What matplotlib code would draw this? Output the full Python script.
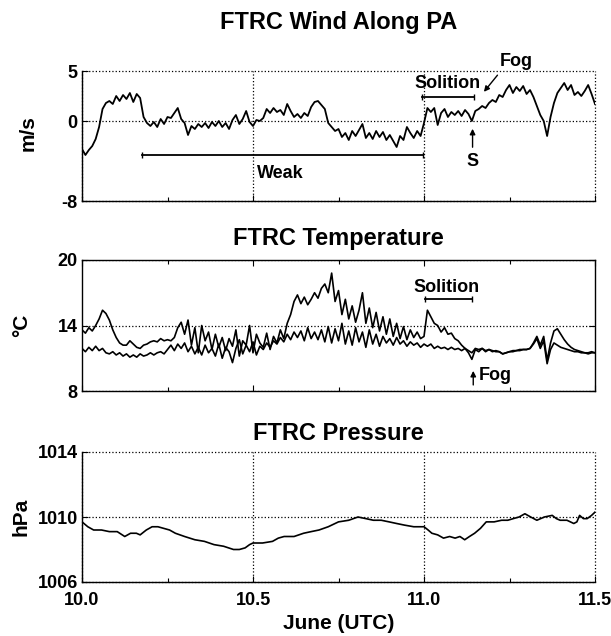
import numpy as np
import matplotlib
matplotlib.use("Agg")
import matplotlib.pyplot as plt

plt.rcParams['font.family'] = ['Liberation Sans', 'DejaVu Sans']
plt.rcParams['font.weight'] = 'bold'
plt.rcParams['axes.labelweight'] = 'bold'

# time axis of the wind and temperature records (June, UTC days)
day = np.round(np.arange(10.0, 11.5001, 0.01), 2)

# wind along PA (m/s), every 0.01 day
wind = [
    -2.8, -3.4, -2.9, -2.5, -1.8, -0.6, 1.2, 1.8, 2.0, 1.7,
    2.5, 2.0, 2.6, 2.2, 2.8, 1.9, 2.7, 2.3, 0.4, -0.2,
    -0.5, -0.1, -0.6, 0.2, -0.3, 0.4, 0.3, 0.8, 1.3, 0.2,
    -0.2, -1.4, -0.5, -0.8, -0.3, -0.6, -0.2, -0.7, -0.1, -0.5,
    0.0, -0.6, -0.2, -0.8, 0.1, 0.6, -0.3, 0.2, 1.0, -0.1,
    -0.5, 0.1, 0.0, 0.3, 1.2, 0.8, 1.3, 0.9, 1.1, 0.6,
    1.7, 1.0, 0.4, 0.7, 0.3, 0.8, 0.5, 1.4, 1.9, 2.0,
    1.6, 1.2, -0.2, -0.6, -1.0, -0.8, -1.6, -1.2, -1.9, -1.0,
    -1.5, -0.9, -0.3, -1.7, -1.2, -1.8, -1.0, -1.6, -1.1, -1.9,
    -1.4, -2.0, -2.6, -1.5, -1.9, -0.6, -1.2, -1.7, -1.0, -1.5,
    -0.2, 1.3, 0.9, 1.3, -0.4, 0.8, 1.2, 0.4, 0.9, 0.6,
    1.0, 0.5, 1.1, 0.7, 0.0, 1.0, 1.2, 1.5, 1.3, 1.8,
    2.1, 1.9, 2.6, 2.4, 3.1, 3.6, 2.8, 3.4, 3.0, 3.5,
    2.7, 3.1, 2.4, 1.5, 0.6, 0.0, -1.5, 0.4, 1.8, 2.8,
    3.3, 3.8, 3.1, 3.6, 2.6, 2.9, 2.5, 3.0, 3.6, 2.7,
    1.7,
]

# the two temperature traces (deg C)
temp_hi = [
    13.6, 13.3, 13.8, 13.5, 14.0, 14.6, 15.4, 15.1, 14.5, 13.6,
    12.9, 12.4, 12.2, 12.2, 12.6, 12.3, 12.0, 11.9, 12.2, 12.3,
    12.5, 12.6, 12.5, 12.8, 12.6, 12.7, 12.6, 12.9, 13.8, 14.3,
    13.2, 14.5, 12.2, 13.8, 11.5, 14.0, 12.6, 13.4, 11.8, 13.2,
    12.0, 12.9, 11.7, 12.8, 12.1, 13.6, 11.2, 12.6, 12.2, 14.0,
    11.5, 13.2, 12.4, 12.0, 13.3, 11.8, 13.0, 12.4, 13.6, 12.8,
    14.2, 15.0, 16.2, 16.8, 16.0, 16.6, 15.9, 16.4, 17.0, 16.5,
    17.4, 17.8, 17.0, 18.8, 16.2, 17.2, 15.0, 16.4, 14.6, 15.8,
    14.3, 15.4, 17.0, 14.2, 15.6, 13.8, 15.2, 13.5, 14.8, 13.2,
    14.6, 13.0, 14.2, 12.8, 13.9, 12.7, 13.6, 12.9, 13.4, 12.8,
    13.0, 15.4, 14.8, 14.2, 14.0, 13.4, 13.8, 13.2, 13.3, 12.8,
    12.6, 12.2, 11.9, 11.7, 11.5, 11.9, 11.8, 11.9, 11.7, 11.8,
    11.6, 11.7, 11.6, 11.4, 11.5, 11.6, 11.7, 11.7, 11.8, 11.8,
    11.8, 11.9, 12.4, 13.0, 12.2, 13.0, 10.8, 12.4, 13.5, 13.7,
    13.2, 12.7, 12.3, 12.0, 11.8, 11.7, 11.6, 11.5, 11.5, 11.6,
    11.5,
]
temp_lo = [
    11.9, 11.6, 12.0, 11.7, 12.1, 11.7, 11.9, 11.5, 11.4, 11.6,
    11.3, 11.5, 11.2, 11.4, 11.1, 11.3, 11.1, 11.4, 11.2, 11.3,
    11.5, 11.3, 11.5, 11.6, 11.4, 11.8, 12.2, 11.7, 12.3, 11.9,
    12.4, 11.6, 12.1, 11.4, 12.0, 11.3, 12.2, 11.5, 11.9, 11.2,
    12.3, 11.0, 12.0, 11.6, 10.6, 11.9, 12.7, 11.4, 12.2, 11.6,
    12.5, 11.3, 12.1, 11.8, 12.4, 12.0, 12.6, 12.3, 12.9, 12.5,
    13.2, 12.7, 13.4, 12.9, 13.5, 12.6, 13.8, 12.8, 13.4, 12.7,
    13.6, 12.5, 13.9, 12.4, 13.7, 12.6, 14.2, 12.3, 13.5, 12.2,
    13.8, 12.5, 13.4, 12.0, 13.6, 12.3, 13.2, 12.1, 13.0, 12.4,
    12.8, 12.2, 12.9, 12.3, 12.6, 12.1, 12.5, 12.2, 12.4, 12.0,
    12.3, 12.1, 12.3, 11.9, 12.1, 11.9, 12.0, 11.8, 12.0, 11.8,
    11.9, 11.7, 11.9, 11.5, 10.9, 11.8, 11.6, 11.9, 11.6, 11.8,
    11.7, 11.6, 11.6, 11.4, 11.5, 11.6, 11.6, 11.7, 11.7, 11.8,
    11.8, 11.9, 12.3, 12.8, 11.9, 12.6, 10.5, 11.8, 12.4, 12.2,
    12.0, 11.9, 11.8, 11.7, 11.6, 11.6, 11.5, 11.5, 11.4, 11.5,
    11.5,
]

# pressure (hPa)
p_day = [10.000, 10.017, 10.034, 10.057, 10.080, 10.103, 10.125, 10.142,
         10.159, 10.170, 10.188, 10.205, 10.222, 10.239, 10.256, 10.273,
         10.300, 10.330, 10.358, 10.386, 10.414, 10.443, 10.460, 10.477,
         10.490, 10.500, 10.528, 10.557, 10.574, 10.591, 10.620, 10.648,
         10.670, 10.693, 10.720, 10.750, 10.780, 10.807, 10.830, 10.852,
         10.875, 10.898, 10.920, 10.943, 10.970, 11.000, 11.012, 11.023,
         11.040, 11.057, 11.075, 11.091, 11.105, 11.119, 11.133, 11.148,
         11.165, 11.182, 11.205, 11.227, 11.245, 11.261, 11.278, 11.295,
         11.312, 11.330, 11.352, 11.375, 11.387, 11.398, 11.418, 11.438,
         11.447, 11.455, 11.466, 11.477, 11.490, 11.500]
pressure = [1009.7, 1009.4, 1009.2, 1009.2, 1009.1, 1009.1, 1008.8, 1009.0,
            1009.0, 1008.9, 1009.2, 1009.4, 1009.4, 1009.3, 1009.2, 1009.0,
            1008.8, 1008.6, 1008.5, 1008.3, 1008.2, 1008.0, 1008.0, 1008.1,
            1008.3, 1008.4, 1008.4, 1008.5, 1008.7, 1008.8, 1008.8, 1009.0,
            1009.1, 1009.2, 1009.4, 1009.7, 1009.8, 1010.0, 1009.9, 1009.8,
            1009.8, 1009.7, 1009.6, 1009.5, 1009.4, 1009.4, 1009.2, 1009.0,
            1008.9, 1008.7, 1008.8, 1008.7, 1008.8, 1008.6, 1008.8, 1009.0,
            1009.3, 1009.7, 1009.7, 1009.8, 1009.8, 1009.9, 1010.0, 1010.2,
            1010.0, 1009.8, 1010.0, 1010.1, 1009.9, 1009.8, 1009.8, 1009.6,
            1009.7, 1010.1, 1009.9, 1009.9, 1010.1, 1010.3]

x_major = [10.0, 10.5, 11.0, 11.5]
x_minor = [10.25, 10.75, 11.25]
x_labels = ['10.0', '10.5', '11.0', '11.5']

W, H = 611, 636
AX_L, AX_R = 82, 595
XC = (AX_L + AX_R) / 2 / W
fig = plt.figure(figsize=(W / 100, H / 100), dpi=100)


def make_axes(top, bottom):
    return fig.add_axes([AX_L / W, 1 - bottom / H, (AX_R - AX_L) / W, (bottom - top) / H])


def style(ax, yticks, ylabels, open_box):
    ax.set_xlim(10.0, 11.5)
    ax.set_ylim(yticks[-1], yticks[0])
    ax.set_xticks(x_major)
    ax.set_xticks(x_minor, minor=True)
    ax.set_yticks(yticks)
    ax.set_yticklabels(ylabels)
    ax.tick_params(which='both', direction='in', labelsize=13, width=0.8)
    ax.tick_params(which='major', length=4)
    ax.tick_params(which='minor', length=3)
    ax.tick_params(axis='y', pad=3)
    for s in ax.spines.values():
        s.set_linewidth(1.0)
    if open_box:
        ax.spines['top'].set_visible(False)
        ax.spines['right'].set_visible(False)
        ax.grid(True, which='major', ls=':', color='k', lw=0.9)
        for g in ax.xaxis.get_gridlines() + ax.yaxis.get_gridlines():
            g.set_clip_on(False)
    else:
        ax.tick_params(which='both', top=True, right=True)
        ax.yaxis.grid(True, ls=':', color='k', lw=0.9)


# ---- wind
ax1 = make_axes(71, 201)
ax1.plot(day, wind, color='k', lw=1.3)
style(ax1, [5, 0, -8], ['5', '0', '-8'], True)
ax1.set_xticklabels([])
fig.text(XC, 1 - 22 / H, 'FTRC Wind Along PA', ha='center', va='center', fontsize=17)
fig.text(28 / W, 1 - 133 / H, 'm/s', rotation=90, ha='center', va='center', fontsize=15)

ax1.plot([10.176, 10.998], [-3.35, -3.35], color='k', lw=1.3, marker='|', ms=4)
ax1.text(10.58, -5.3, 'Weak', ha='center', va='center', fontsize=13)
ax1.plot([10.994, 11.145], [2.45, 2.45], color='k', lw=1.3, marker='|', ms=4)
ax1.text(11.07, 3.8, 'Solition', ha='center', va='center', fontsize=13)
ax1.text(11.27, 5.9, 'Fog', ha='center', va='center', fontsize=13, clip_on=False)
ax1.annotate('', xy=(11.17, 2.7), xytext=(11.22, 4.8),
             arrowprops=dict(arrowstyle='-|>', color='k', lw=1.0, mutation_scale=8),
             annotation_clip=False)
ax1.annotate('', xy=(11.142, -0.5), xytext=(11.142, -2.9),
             arrowprops=dict(arrowstyle='-|>', color='k', lw=1.0, mutation_scale=8))
ax1.text(11.142, -4.1, 'S', ha='center', va='center', fontsize=13)

# ---- temperature
ax2 = make_axes(260, 391)
ax2.plot(day, temp_hi, color='k', lw=1.2)
ax2.plot(day, temp_lo, color='k', lw=1.2)
style(ax2, [20, 14, 8], ['20', '14', '8'], False)
ax2.set_xticklabels([])
fig.text(XC, 1 - 238 / H, 'FTRC Temperature', ha='center', va='center', fontsize=17)
fig.text(22 / W, 1 - 325 / H, '°C', rotation=90, ha='center', va='center', fontsize=15)

ax2.text(11.065, 17.5, 'Solition', ha='center', va='center', fontsize=13)
ax2.plot([11.003, 11.14], [16.4, 16.4], color='k', lw=1.3, marker='|', ms=4)
ax2.annotate('', xy=(11.144, 10.1), xytext=(11.144, 8.3),
             arrowprops=dict(arrowstyle='-|>', color='k', lw=1.0, mutation_scale=8))
ax2.text(11.16, 9.4, 'Fog', ha='left', va='center', fontsize=13)

# ---- pressure
ax3 = make_axes(452, 582)
ax3.plot(p_day, pressure, color='k', lw=1.2)
style(ax3, [1014, 1010, 1006], ['1014', '1010', '1006'], True)
ax3.set_xticklabels(x_labels)
ax3.tick_params(axis='x', pad=7)
fig.text(XC, 1 - 434 / H, 'FTRC Pressure', ha='center', va='center', fontsize=17)
fig.text(21 / W, 1 - 517 / H, 'hPa', rotation=90, ha='center', va='center', fontsize=15)
ax3.set_xlabel('June (UTC)', fontsize=15, fontweight='bold', labelpad=4)

fig.savefig('out.png', dpi=100)
